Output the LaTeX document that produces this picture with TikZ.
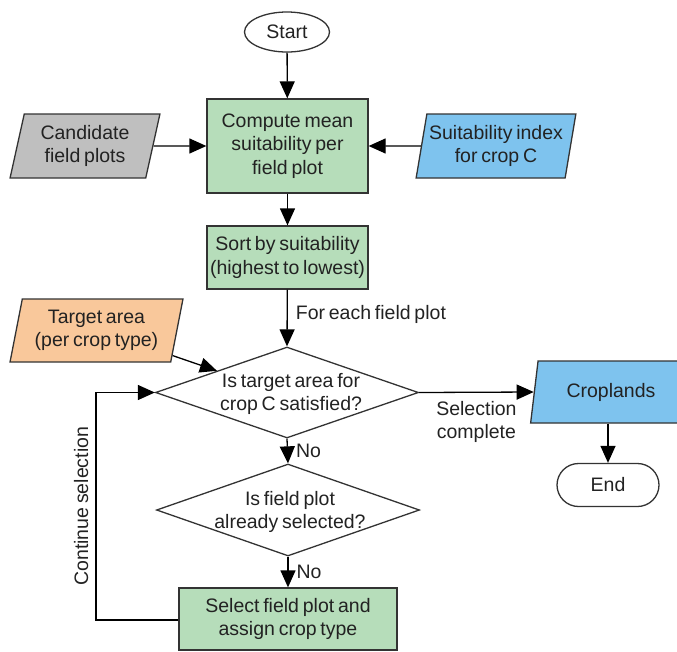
\documentclass[tikz,border=0pt]{standalone}
\usepackage{fontspec}
\setmainfont{Liberation Sans}[WordSpace=0.7]
\usetikzlibrary{shapes.geometric,arrows.meta,calc}

\definecolor{linec}{HTML}{333333}
\definecolor{textc}{HTML}{222222}
\definecolor{procfill}{HTML}{B6DDBA}
\definecolor{bluefill}{HTML}{7EC3EE}
\definecolor{grayfill}{HTML}{BFBFBF}
\definecolor{orangefill}{HTML}{F9C89B}

\tikzset{
  base/.style={draw=linec, line width=1.3pt, text=textc, inner sep=0pt, align=center},
  proc/.style={base, rectangle, fill=procfill},
  io/.style={base, trapezium, trapezium left angle=76, trapezium right angle=104,
    trapezium stretches=true},
  decision/.style={base, diamond, minimum width=263pt, minimum height=91pt},
  terminal/.style={base, rectangle, fill=white, rounded corners=21.5pt},
  conn/.style={draw=black, line width=1.3pt},
  arrow/.style={conn, -{Triangle[length=17pt,width=15pt]}},
  lbl/.style={text=textc, inner sep=0pt, align=center},
}

\begin{document}
\begin{tikzpicture}[x=1pt, y=-1pt, font=\fontsize{19.5}{23.5}\selectfont]
  \useasboundingbox (0,0) rectangle (677,651);
  \clip (0,0) rectangle (677,651);

  % flow nodes
  \node[base, ellipse, fill=white, minimum width=85pt, minimum height=40pt] (start) at (287,32) {Start};
  \node[proc, minimum width=161pt, minimum height=94pt] (compute) at (287.5,146) {Compute mean\\suitability per\\field plot};
  \node[io, fill=grayfill, minimum width=150pt, minimum height=64pt] (cand) at (85,146) {Candidate\\field plots};
  \node[io, fill=bluefill, minimum width=160pt, minimum height=64pt] (suit) at (496,146) {Suitability index\\for crop C};
  \node[proc, minimum width=161pt, minimum height=63pt] (sort) at (287.5,257.5) {Sort by suitability\\(highest to lowest)};
  \node[io, fill=orangefill, minimum width=173pt, minimum height=63pt] (target) at (96.5,330.5) {Target area\\(per crop type)};
  \node[decision, fill=white] (d1) at (287,392.5) {};
  \node[lbl] (d1text) at (291,394) {Is target area for\\crop C satisfied?};
  \node[io, fill=bluefill, minimum width=161pt, minimum height=62pt] (crop) at (611,392) {Croplands};
  \node[terminal, minimum width=102pt, minimum height=43pt] (end) at (608,485) {End};
  \node[decision, fill=white, minimum height=92pt] (d2) at (288,510) {};
  \node[lbl] (d2text) at (290,512) {Is field plot\\already selected?};
  \node[proc, minimum width=218pt, minimum height=62pt] (select) at (288,619) {Select field plot and\\assign crop type};

  % loop-back corners
  \coordinate (loopb) at (96,620);
  \coordinate (loopt) at (96,392.5);

  % connectors
  \draw[arrow] (start) -- (compute);
  \draw[arrow] (cand.east) -- (compute.west);
  \draw[arrow] (suit.west) -- (compute.east);
  \draw[arrow] (compute) -- (sort);
  \draw[arrow] (sort) -- node[lbl, anchor=west, pos=0.43, xshift=8pt] {For each field plot} (d1.north);
  \draw[arrow] ($(target.bottom right corner)!0.11!(target.top right corner)$) -- ($(d1.west)!0.47!(d1.north)$);
  \draw[arrow] (d1.east) -- node[lbl, below=8pt] {Selection\\complete} (crop.west);
  \draw[arrow] (crop.south -| end.north) -- (end.north);
  \draw[arrow] (d1.south) -- node[lbl, anchor=west, xshift=8pt] {No} (d2.north);
  \draw[arrow] (d2.south) -- node[lbl, anchor=west, xshift=8pt] {No} (select.north);
  \draw[arrow] (select.west |- loopb) -- (loopb) -- node[lbl, sloped, above=7pt] {Continue selection} (loopt) -- (d1.west);
\end{tikzpicture}
\end{document}
